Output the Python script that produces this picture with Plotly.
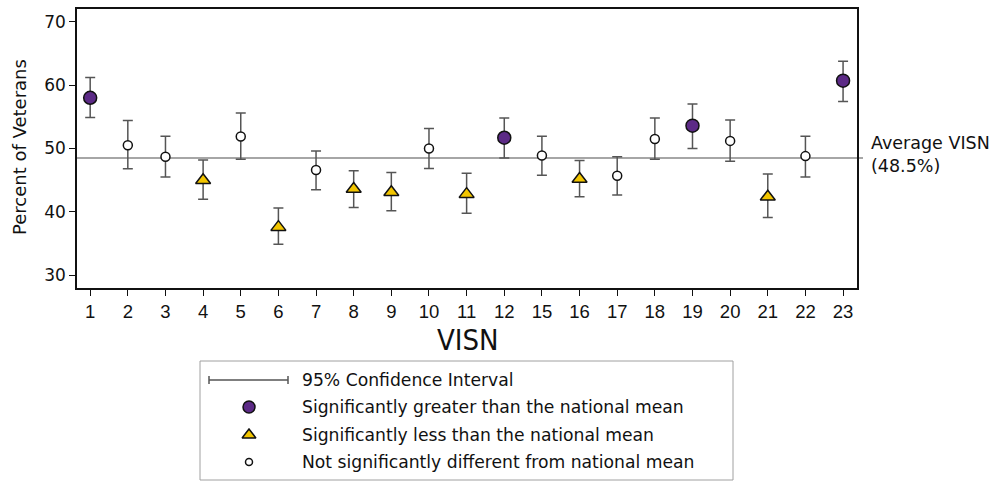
import plotly.graph_objects as go

# ---- data ----
visn = ["1", "2", "3", "4", "5", "6", "7", "8", "9", "10", "11", "12",
        "15", "16", "17", "18", "19", "20", "21", "22", "23"]
pct = [58.0, 50.5, 48.7, 45.0, 51.9, 37.6, 46.6, 43.6, 43.1, 50.0, 42.8, 51.7,
       48.9, 45.2, 45.7, 51.5, 53.6, 51.2, 42.4, 48.8, 60.7]
ci_low = [54.9, 46.8, 45.5, 42.0, 48.3, 34.9, 43.5, 40.7, 40.2, 46.85, 39.8, 48.5,
          45.8, 42.4, 42.65, 48.3, 50.0, 48.0, 39.1, 45.5, 57.4]
ci_high = [61.2, 54.4, 51.95, 48.2, 55.6, 40.6, 49.6, 46.5, 46.2, 53.15, 46.1, 54.8,
           51.95, 48.1, 48.7, 54.8, 57.0, 54.5, 45.97, 51.95, 63.76]
group = ["greater", "not", "not", "less", "not", "less", "not", "less", "less", "not",
         "less", "greater", "not", "less", "not", "not", "greater", "not", "less",
         "not", "greater"]
national_mean = 48.5
y_ticks = [30, 40, 50, 60, 70]
legend_labels = ["95% Confidence Interval",
                 "Significantly greater than the national mean",
                 "Significantly less than the national mean",
                 "Not significantly different from national mean"]

styles = {
    "greater": dict(symbol="circle", size=13, color="#5C2A86"),
    "less": dict(symbol="triangle-up", size=13, color="#F2C500"),
    "not": dict(symbol="circle", size=9, color="#FFFFFF"),
}

W, H = 990, 481
ML, MR, MT, MB = 77, 133, 9, 0
PW, PH = W - ML - MR, H - MT - MB


def px_x(p):
    return (p - ML) / PW


def px_y(p):
    return (H - p) / PH


fig = go.Figure()

for g in ["not", "less", "greater"]:
    idx = [i for i, gg in enumerate(group) if gg == g]
    st = styles[g]
    fig.add_trace(go.Scatter(
        x=[visn[i] for i in idx],
        y=[pct[i] for i in idx],
        mode="markers",
        marker=dict(symbol=st["symbol"], size=st["size"], color=st["color"],
                    line=dict(color="#111111", width=1.5)),
        error_y=dict(type="data", symmetric=False,
                     array=[ci_high[i] - pct[i] for i in idx],
                     arrayminus=[pct[i] - ci_low[i] for i in idx],
                     color="#555555", thickness=1.5, width=5),
        showlegend=False, hoverinfo="skip",
    ))

# ---- custom legend on an auxiliary pixel-based axis ----
y2_dom = 0.38
leg_rows = [380, 407, 435, 462]
leg_mx = 249
for g, ry in zip(["greater", "less", "not"], leg_rows[1:]):
    st = styles[g]
    fig.add_trace(go.Scatter(
        x=[leg_mx], y=[ry], xaxis="x2", yaxis="y2", mode="markers",
        marker=dict(symbol=st["symbol"], size=st["size"] - (1 if g != "not" else 2),
                    color=st["color"], line=dict(color="#111111", width=1.5)),
        showlegend=False, hoverinfo="skip",
    ))

shapes = [
    dict(type="line", xref="paper", yref="y", x0=0, x1=px_x(863),
         y0=national_mean, y1=national_mean,
         line=dict(color="#888888", width=1.5), layer="below"),
    dict(type="rect", xref="x2", yref="y2", x0=200, x1=733, y0=361, y1=480,
         line=dict(color="#A0A0A0", width=1)),
    dict(type="line", xref="x2", yref="y2", x0=209, x1=288, y0=380, y1=380,
         line=dict(color="#555555", width=1.5)),
    dict(type="line", xref="x2", yref="y2", x0=209, x1=209, y0=376, y1=384,
         line=dict(color="#555555", width=1.5)),
    dict(type="line", xref="x2", yref="y2", x0=288, x1=288, y0=376, y1=384,
         line=dict(color="#555555", width=1.5)),
]

annotations = [
    dict(text="Percent of Veterans", xref="paper", yref="paper",
         x=px_x(19.5), y=px_y(147.5), textangle=-90, showarrow=False,
         xanchor="center", yanchor="middle",
         font=dict(family="DejaVu Sans", size=18, color="#111111")),
    dict(text="VISN", xref="paper", yref="paper", x=px_x(468), y=px_y(340),
         showarrow=False, xanchor="center", yanchor="middle",
         font=dict(family="DejaVu Sans Condensed, DejaVu Sans", size=29,
                   color="#111111")),
    dict(text="Average VISN<br>(48.5%)", xref="paper", yref="y",
         x=px_x(869), y=national_mean, yshift=4, showarrow=False,
         xanchor="left", yanchor="middle", align="left",
         font=dict(family="DejaVu Sans", size=17.5, color="#111111")),
]
for lab, ry in zip(legend_labels, leg_rows):
    annotations.append(dict(text=lab, xref="x2", yref="y2", x=300, y=ry,
                            showarrow=False, xanchor="left", yanchor="middle",
                            font=dict(family="DejaVu Sans", size=17.2,
                                      color="#111111")))

fig.update_layout(
    width=W, height=H,
    margin=dict(l=ML, r=MR, t=MT, b=MB, pad=0),
    paper_bgcolor="white", plot_bgcolor="white",
    showlegend=False,
    xaxis=dict(type="category", categoryorder="array", categoryarray=visn,
               range=[-0.35, len(visn) - 1 + 0.37], domain=[0, 1],
               showline=True, mirror=True, linecolor="#111111", linewidth=1.5,
               ticks="outside", ticklen=6, tickwidth=1.2, tickcolor="#111111",
               showgrid=False, zeroline=False,
               tickfont=dict(family="Liberation Sans", size=18.5,
                             color="#111111"),
               anchor="y"),
    yaxis=dict(range=[28, 72], tickvals=y_ticks, domain=[px_y(288), 1],
               showline=True, mirror=True, linecolor="#111111", linewidth=1.5,
               ticks="outside", ticklen=6, tickwidth=1.2, tickcolor="#111111",
               showgrid=False, zeroline=False,
               tickfont=dict(family="DejaVu Sans", size=17, color="#111111"),
               anchor="x"),
    xaxis2=dict(domain=[0, 1], range=[ML, ML + PW], visible=False,
                anchor="y2", fixedrange=True),
    yaxis2=dict(domain=[0, y2_dom], range=[H, H - y2_dom * PH], visible=False,
                anchor="x2", fixedrange=True),
    shapes=shapes, annotations=annotations,
)

fig.write_html(
    "out.html",
    config={"displayModeBar": False},
    post_script="document.body.style.margin='0';document.body.style.padding='0';"
                "document.body.style.overflow='hidden';",
)
